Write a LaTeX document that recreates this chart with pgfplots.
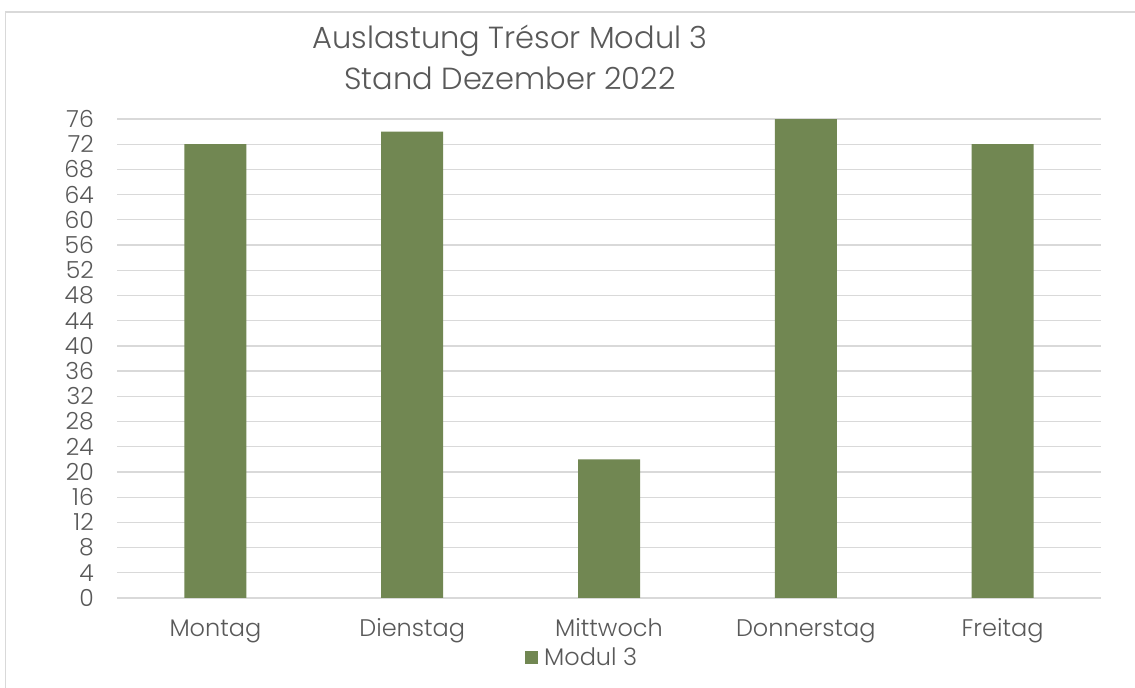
\documentclass[border=0pt]{standalone}
\usepackage{fontspec}
\setmainfont{Poppins}[UprightFont={* Light}]
\usepackage{pgfplots}
\pgfplotsset{compat=1.18}
\definecolor{barc}{RGB}{113,135,82}
\definecolor{txt}{RGB}{89,89,89}
\definecolor{grd}{RGB}{217,217,217}
\begin{document}
\begin{tikzpicture}
\useasboundingbox (0,0) rectangle (1135bp,688bp);
\fill[white] (0,0) rectangle (1135bp,688bp);
\draw[grd, line width=1.5bp] (5.5bp,-10bp) -- (5.5bp,676bp) -- (1145bp,676bp);
\begin{axis}[
  at={(117bp,90bp)}, anchor=south west,
  scale only axis, width=984bp, height=479bp,
  xmin=-0.5, xmax=4.5, ymin=0, ymax=76,
  ytick={0,4,...,76},
  xtick={0,1,2,3,4},
  xticklabels={Montag,Dienstag,Mittwoch,Donnerstag,Freitag},
  axis line style={draw=none},
  major tick length=0pt,
  ymajorgrids, grid style={grd, line width=1.3bp},
  /pgf/number format/assume math mode=true,
  ticklabel style={text=txt},
  yticklabel style={anchor=east, inner sep=0pt, xshift=-23bp, font=\fontsize{23.5bp}{26bp}\selectfont},
  xticklabel style={anchor=base, inner sep=0pt, yshift=-39bp, font=\fontsize{24bp}{26bp}\selectfont},
  ybar, bar width=62bp,
  legend style={at={(0.4146,-0.1211)}, anchor=west, draw=none, fill=none, inner sep=0pt,
    font=\fontsize{24bp}{26bp}\selectfont, text=txt,
    nodes={inner sep=0pt, text height=18bp, text depth=0pt},
    /tikz/every odd column/.style={column sep=6bp}},
  legend image code/.code={\fill[barc] (0bp,-8bp) rectangle (13bp,5bp);},
]
\addplot[fill=barc, draw=none, bar shift=0pt] coordinates {(0,72) (1,74) (2,22) (3,76) (4,72)};
\addlegendentry{Modul 3}
\end{axis}
\node[text=txt, align=center, font=\fontsize{30.5bp}{41bp}\selectfont, anchor=center] at (510bp,631bp) {Auslastung Trésor Modul 3\\Stand Dezember 2022};
\end{tikzpicture}
\end{document}
